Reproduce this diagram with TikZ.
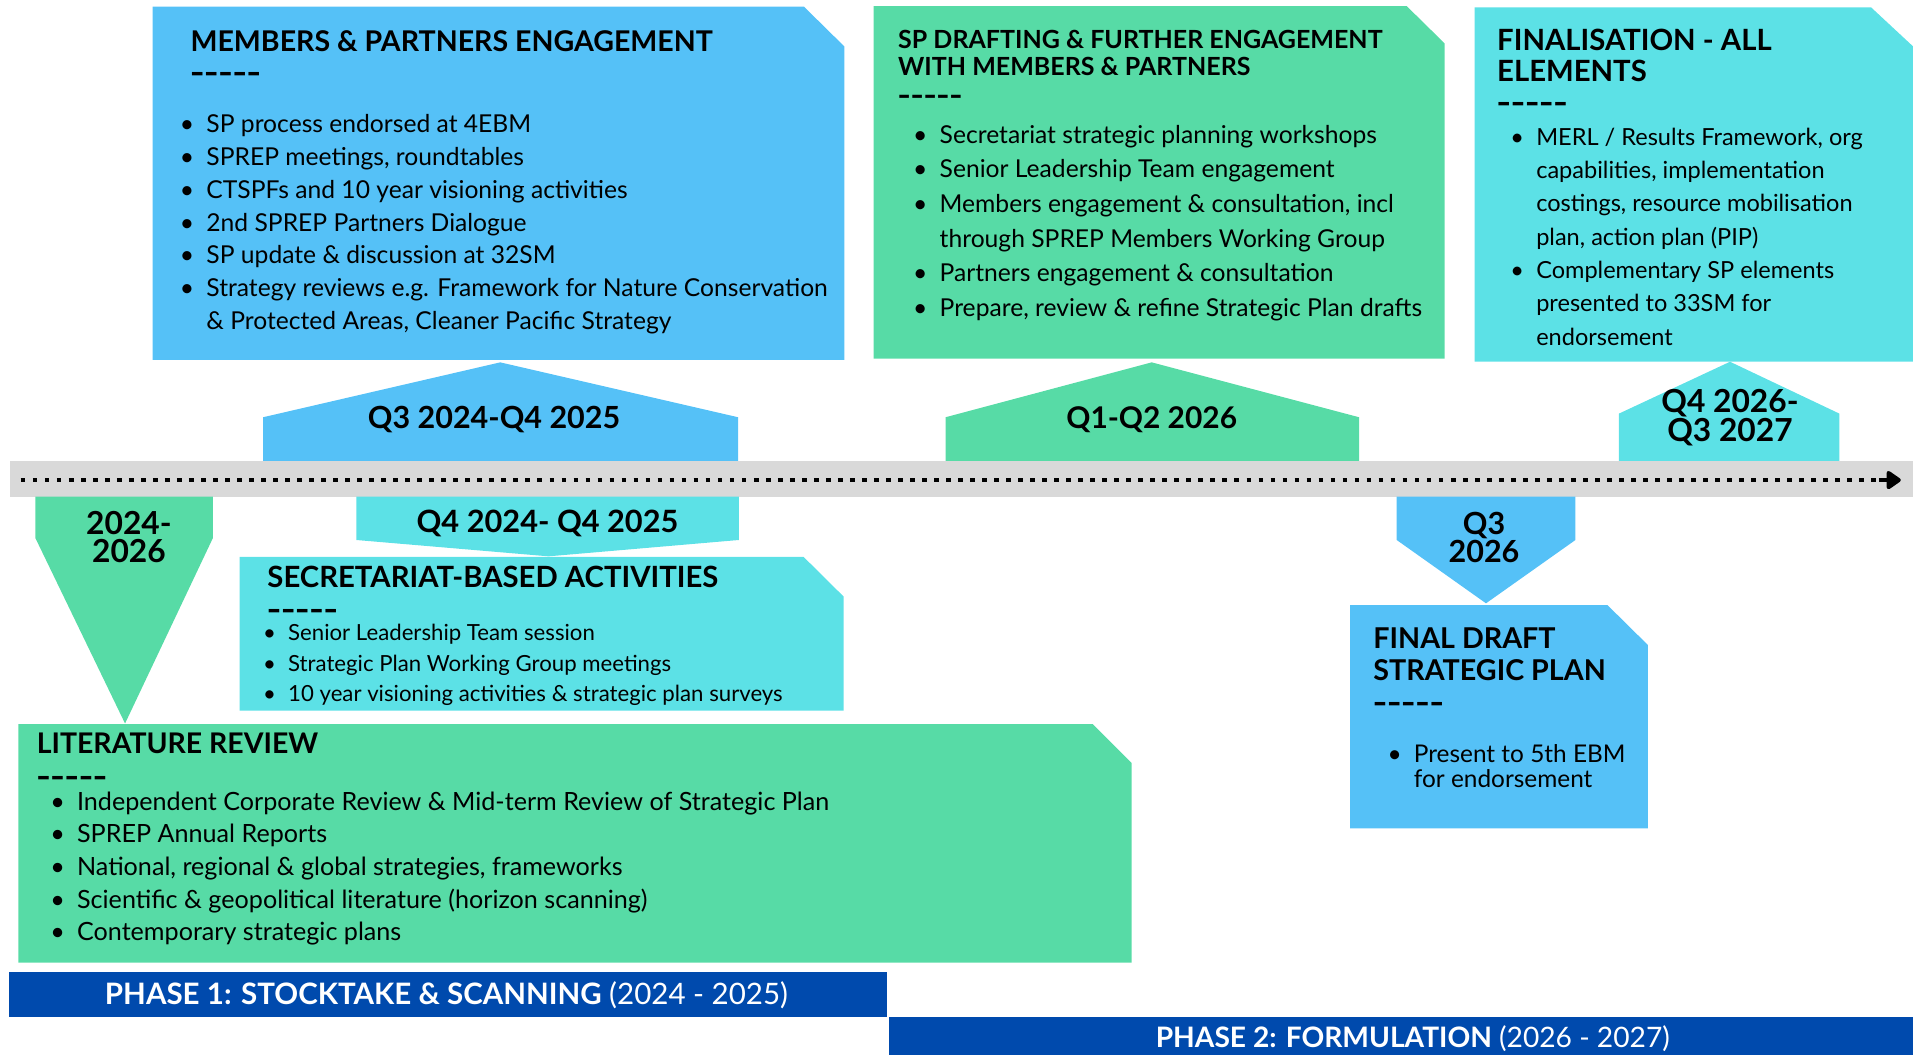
\documentclass[tikz,border=0pt]{standalone}
\usepackage{fontspec}
\setmainfont{Lato}
\newfontfamily\dashfont{DejaVu Sans}
\usetikzlibrary{arrows.meta}
\definecolor{cblue}{HTML}{55C1F7}
\definecolor{cgreen}{HTML}{57DBA6}
\definecolor{ccyan}{HTML}{5CE1E6}
\definecolor{cnavy}{HTML}{004AAD}
\definecolor{cgray}{HTML}{D9D9D9}
\newcommand\fsz[1]{\fontsize{#1}{#1}\selectfont}
\newcommand\bul{\llap{\textbullet\hspace{10pt}}}
\newcommand\dsh{{\dashfont\bfseries\textendash\hspace{0.6pt}\textendash\hspace{0.6pt}\textendash\hspace{0.6pt}\textendash\hspace{0.6pt}\textendash}}
\tikzset{
  head/.style={anchor=base west, inner sep=0pt, font=\bfseries\fsz{#1}},
  body/.style={anchor=base west, inner sep=0pt, font=\fsz{#1}},
  dashes/.style={anchor=base west, inner sep=0pt, font=\fsz{#1}},
  qlab/.style={anchor=base, inner sep=0pt, font=\bfseries\fsz{#1}},
  phase/.style={anchor=base, inner sep=0pt, text=white, font=\fsz{#1}},
  dots/.style={line width=3.85pt, dash pattern=on 3.85pt off 6pt},
}
\begin{document}
\begin{tikzpicture}[x=1pt,y=-1pt]
\useasboundingbox (0,0) rectangle (1568,865);
% ---------- shapes ----------
\fill[cblue]  (125,5.5) -- (659,5.5) -- (692,38) -- (692,295) -- (125,295) -- cycle;
\fill[cblue]  (215.6,378) -- (215.6,342) -- (410,297) -- (605,342) -- (605,378) -- cycle;
\fill[cgreen] (716,5) -- (1153,5) -- (1184,35.5) -- (1184,294) -- (716,294) -- cycle;
\fill[cgreen] (775,378) -- (775,342) -- (944,297) -- (1114,342) -- (1114,378) -- cycle;
\fill[ccyan]  (1208.6,6) -- (1533.6,6) -- (1568,38) -- (1568,296.5) -- (1208.6,296.5) -- cycle;
\fill[ccyan]  (1327,378) -- (1327,339) -- (1418,296.5) -- (1507.6,339) -- (1507.6,378) -- cycle;
\fill[cgray]  (8,378) rectangle (1568,407);
\fill[cgreen] (29,407) -- (174.5,407) -- (174.5,441) -- (102.5,593) -- (29,441) -- cycle;
\fill[ccyan]  (292,407) -- (605.6,407) -- (605.6,442.6) -- (449.6,456) -- (292,442.6) -- cycle;
\fill[ccyan]  (196.5,456.5) -- (658.7,456.5) -- (691.5,489) -- (691.5,582.5) -- (196.5,582.5) -- cycle;
\fill[cgreen] (15,593.5) -- (895.7,593.5) -- (927.6,625.5) -- (927.6,789) -- (15,789) -- cycle;
\fill[cnavy]  (7.2,796.4) rectangle (727.4,833.3);
\fill[cnavy]  (728.7,833.3) rectangle (1568,865);
\fill[cblue]  (1144.8,407) -- (1291.3,407) -- (1291.3,442.6) -- (1218,494.5) -- (1144.8,442.6) -- cycle;
\fill[cblue]  (1106.6,496) -- (1317.6,496) -- (1350.7,528.7) -- (1350.7,679) -- (1106.6,679) -- cycle;
% ---------- timeline ----------
\coordinate (tl) at (17,393.5);
\coordinate (tr) at (1540,393.5);
\coordinate (tip) at (1558,393.5);
\draw[dots] (tl) -- (tr);
\draw[line width=3.85pt, -{Triangle[length=13pt,width=17pt,round]}] (tr) -- (tip);
% ---------- box 1 ----------
\node[head=23.4] (h1) at (156,42.6) {MEMBERS \& PARTNERS ENGAGEMENT};
\node[dashes=22] (d1) at (156,66.7) {\dsh};
\foreach \t [count=\i] in {{\bul SP process endorsed at 4EBM},{\bul SPREP meetings, roundtables},{\bul CTSPFs and 10 year visioning activities},{\bul 2nd SPREP Partners Dialogue},{\bul SP update \& discussion at 32SM},{\bul Strategy reviews e.g. Framework for Nature Conservation},{\& Protected Areas, Cleaner Pacific Strategy}}
  \node[body=20.2] (a\i) at (169,{109+26.8*(\i-1)}) {\t};
\node[qlab=25] (q1) at (405,351) {Q3 2024-Q4 2025};
% ---------- box 2 ----------
\node[head=20.5] (h2a) at (736,39.6) {SP DRAFTING \& FURTHER ENGAGEMENT};
\node[head=20.5] (h2b) at (736,62) {WITH MEMBERS \& PARTNERS};
\node[dashes=20] (d2) at (736,85) {\dsh};
\foreach \t [count=\i] in {{\bul Secretariat strategic planning workshops},{\bul Senior Leadership Team engagement},{\bul Members engagement \& consultation, incl},{through SPREP Members Working Group},{\bul Partners engagement \& consultation},{\bul Prepare, review \& refine Strategic Plan drafts}}
  \node[body=20.2] (b\i) at (770,{117.5+28.35*(\i-1)}) {\t};
\node[qlab=24.5] (q2) at (944,351) {Q1-Q2 2026};
% ---------- box 3 ----------
\node[head=24] (h3a) at (1227,41) {FINALISATION - ALL};
\node[head=24] (h3b) at (1227,67) {ELEMENTS};
\node[dashes=22] (d3) at (1227,91.7) {\dsh};
\foreach \t [count=\i] in {{\bul MERL / Results Framework, org},{capabilities, implementation},{costings, resource mobilisation},{plan, action plan (PIP)},{\bul Complementary SP elements},{presented to 33SM for},{endorsement}}
  \node[body=19.3] (c\i) at (1259,{119+27.3*(\i-1)}) {\t};
\node[qlab=26] (q3a) at (1418,338.5) {Q4 2026-};
\node[qlab=26] (q3b) at (1418,362) {Q3 2027};
% ---------- below the line ----------
\node[qlab=26] (y1) at (105.7,438) {2024-};
\node[qlab=26] (y2) at (105.7,461) {2026};
\node[qlab=25.2] (q4) at (448.8,436.6) {Q4 2024- Q4 2025};
\node[qlab=25] (q5a) at (1216.4,438) {Q3};
\node[qlab=25] (q5b) at (1216.4,461) {2026};
% secretariat
\node[head=24] (h4) at (219,481.5) {SECRETARIAT-BASED ACTIVITIES};
\node[dashes=22] (d4) at (219,507) {\dsh};
\foreach \t [count=\i] in {{\bul Senior Leadership Team session},{\bul Strategic Plan Working Group meetings},{\bul 10 year visioning activities \& strategic plan surveys}}
  \node[body=18.2] (s\i) at (236,{525+25.15*(\i-1)}) {\t};
% literature
\node[head=23.3] (h5) at (30,617.5) {LITERATURE REVIEW};
\node[dashes=22] (d5) at (30,643.5) {\dsh};
\foreach \t [count=\i] in {{\bul Independent Corporate Review \& Mid-term Review of Strategic Plan},{\bul SPREP Annual Reports},{\bul National, regional \& global strategies, frameworks},{\bul Scientific \& geopolitical literature (horizon scanning)},{\bul Contemporary strategic plans}}
  \node[body=20.6] (l\i) at (63,{664+26.8*(\i-1)}) {\t};
% final draft
\node[head=23.5] (h6a) at (1125.5,531.4) {FINAL DRAFT};
\node[head=23.5] (h6b) at (1125.5,557.4) {STRATEGIC PLAN};
\node[dashes=22] (d6) at (1125.5,583) {\dsh};
\node[body=20] (f1) at (1158.7,624.7) {\bul Present to 5th EBM};
\node[body=20] (f2) at (1158.7,645.7) {for endorsement};
% phases
\node[phase=24.2] (p1) at (366,823.5) {\textbf{PHASE 1: STOCKTAKE \& SCANNING} (2024 - 2025)};
\node[phase=23.1] (p2) at (1158,858.3) {\textbf{PHASE 2: FORMULATION} (2026 - 2027)};
\end{tikzpicture}
\end{document}
